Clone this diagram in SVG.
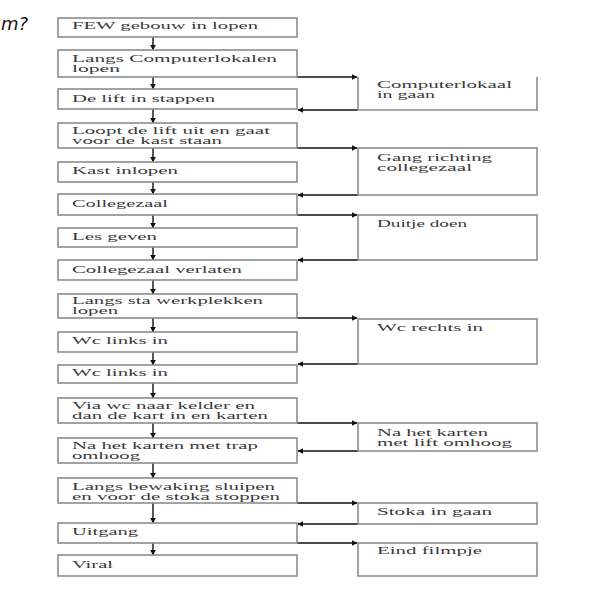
<svg xmlns="http://www.w3.org/2000/svg" width="600" height="600" viewBox="0 0 600 600">
<style>
.box{fill:#fff;stroke:#8c8c8c;stroke-width:1.6}
.side{fill:none;stroke:#8c8c8c;stroke-width:1.6}
.t{font-family:"Liberation Serif","Times New Roman",serif;font-size:9.5px;fill:#3a3a3a}
.c{fill:none;stroke:#111;stroke-width:1.4}
</style>
<defs>
<marker id="ah" viewBox="0 0 10 10" refX="9" refY="5" markerWidth="6" markerHeight="6" markerUnits="userSpaceOnUse" orient="auto">
<path d="M0,0 L10,5 L0,10 z" fill="#111"/>
</marker>
</defs>
<rect width="600" height="600" fill="#fff"/>
<text x="1" y="30" font-family="DejaVu Sans, sans-serif" font-size="18" font-style="italic" fill="#111">m?</text>

<g id="connectors">
<path class="c" marker-end="url(#ah)" d="M153,37V50"/>
<path class="c" marker-end="url(#ah)" d="M153,77V89"/>
<path class="c" marker-end="url(#ah)" d="M153,109V123"/>
<path class="c" marker-end="url(#ah)" d="M153,148V162"/>
<path class="c" marker-end="url(#ah)" d="M153,182V194"/>
<path class="c" marker-end="url(#ah)" d="M153,215V228"/>
<path class="c" marker-end="url(#ah)" d="M153,247V260"/>
<path class="c" marker-end="url(#ah)" d="M153,280V294"/>
<path class="c" marker-end="url(#ah)" d="M153,318V332"/>
<path class="c" marker-end="url(#ah)" d="M153,352V365"/>
<path class="c" marker-end="url(#ah)" d="M153,383V398"/>
<path class="c" marker-end="url(#ah)" d="M153,423V438"/>
<path class="c" marker-end="url(#ah)" d="M153,463V478"/>
<path class="c" marker-end="url(#ah)" d="M153,503V523"/>
<path class="c" marker-end="url(#ah)" d="M153,543V555"/>
<path class="c" marker-end="url(#ah)" d="M297,77H357"/>
<path class="c" marker-end="url(#ah)" d="M297,148H357"/>
<path class="c" marker-end="url(#ah)" d="M297,215H357"/>
<path class="c" marker-end="url(#ah)" d="M297,318H357"/>
<path class="c" marker-end="url(#ah)" d="M297,423H357"/>
<path class="c" marker-end="url(#ah)" d="M297,503H357"/>
<path class="c" marker-end="url(#ah)" d="M297,543H357"/>
<path class="c" marker-end="url(#ah)" d="M358,110H298"/>
<path class="c" marker-end="url(#ah)" d="M358,195H298"/>
<path class="c" marker-end="url(#ah)" d="M358,260H298"/>
<path class="c" marker-end="url(#ah)" d="M358,364H298"/>
<path class="c" marker-end="url(#ah)" d="M358,451H298"/>
<path class="c" marker-end="url(#ah)" d="M358,524H298"/>
</g>

<g id="n1"><rect class="box" x="58" y="18" width="239" height="19"/><text class="t" x="72" y="29" textLength="186" lengthAdjust="spacingAndGlyphs">FEW gebouw in lopen</text></g>
<g id="n2"><rect class="box" x="58" y="50" width="239" height="27"/><text class="t" x="72" y="62" textLength="205" lengthAdjust="spacingAndGlyphs">Langs Computerlokalen</text><text class="t" x="72" y="72" textLength="48" lengthAdjust="spacingAndGlyphs">lopen</text></g>
<g id="n3"><rect class="box" x="58" y="89" width="239" height="20"/><text class="t" x="72" y="102" textLength="143" lengthAdjust="spacingAndGlyphs">De lift in stappen</text></g>
<g id="n4"><rect class="box" x="58" y="123" width="239" height="25"/><text class="t" x="72" y="134" textLength="198" lengthAdjust="spacingAndGlyphs">Loopt de lift uit en gaat</text><text class="t" x="72" y="144" textLength="150" lengthAdjust="spacingAndGlyphs">voor de kast staan</text></g>
<g id="n5"><rect class="box" x="58" y="162" width="239" height="20"/><text class="t" x="72" y="174" textLength="106" lengthAdjust="spacingAndGlyphs">Kast inlopen</text></g>
<g id="n6"><rect class="box" x="58" y="194" width="239" height="21"/><text class="t" x="72" y="207" textLength="96" lengthAdjust="spacingAndGlyphs">Collegezaal</text></g>
<g id="n7"><rect class="box" x="58" y="228" width="239" height="19"/><text class="t" x="72" y="240" textLength="85" lengthAdjust="spacingAndGlyphs">Les geven</text></g>
<g id="n8"><rect class="box" x="58" y="260" width="239" height="20"/><text class="t" x="72" y="273" textLength="170" lengthAdjust="spacingAndGlyphs">Collegezaal verlaten</text></g>
<g id="n9"><rect class="box" x="58" y="294" width="239" height="24"/><text class="t" x="72" y="304" textLength="191" lengthAdjust="spacingAndGlyphs">Langs sta werkplekken</text><text class="t" x="72" y="314" textLength="46" lengthAdjust="spacingAndGlyphs">lopen</text></g>
<g id="n10"><rect class="box" x="58" y="332" width="239" height="20"/><text class="t" x="72" y="344" textLength="96" lengthAdjust="spacingAndGlyphs">Wc links in</text></g>
<g id="n11"><rect class="box" x="58" y="365" width="239" height="18"/><text class="t" x="72" y="376" textLength="96" lengthAdjust="spacingAndGlyphs">Wc links in</text></g>
<g id="n12"><rect class="box" x="58" y="398" width="239" height="25"/><text class="t" x="72" y="409" textLength="183" lengthAdjust="spacingAndGlyphs">Via wc naar kelder en</text><text class="t" x="72" y="419" textLength="196" lengthAdjust="spacingAndGlyphs">dan de kart in en karten</text></g>
<g id="n13"><rect class="box" x="58" y="438" width="239" height="25"/><text class="t" x="72" y="449" textLength="186" lengthAdjust="spacingAndGlyphs">Na het karten met trap</text><text class="t" x="72" y="459" textLength="68" lengthAdjust="spacingAndGlyphs">omhoog</text></g>
<g id="n14"><rect class="box" x="58" y="478" width="239" height="25"/><text class="t" x="72" y="490" textLength="203" lengthAdjust="spacingAndGlyphs">Langs bewaking sluipen</text><text class="t" x="72" y="500" textLength="208" lengthAdjust="spacingAndGlyphs">en voor de stoka stoppen</text></g>
<g id="n15"><rect class="box" x="58" y="523" width="239" height="20"/><text class="t" x="72" y="535" textLength="66" lengthAdjust="spacingAndGlyphs">Uitgang</text></g>
<g id="n16"><rect class="box" x="58" y="555" width="239" height="21"/><text class="t" x="72" y="568" textLength="41" lengthAdjust="spacingAndGlyphs">Viral</text></g>

<g id="s1"><path class="side" d="M358,77V110H537V77"/><text class="t" x="377" y="88" textLength="135" lengthAdjust="spacingAndGlyphs">Computerlokaal</text><text class="t" x="377" y="98" textLength="58" lengthAdjust="spacingAndGlyphs">in gaan</text></g>
<g id="s2"><rect class="side" x="358" y="148" width="179" height="47"/><text class="t" x="377" y="161" textLength="115" lengthAdjust="spacingAndGlyphs">Gang richting</text><text class="t" x="377" y="171" textLength="95" lengthAdjust="spacingAndGlyphs">collegezaal</text></g>
<g id="s3"><rect class="side" x="358" y="215" width="179" height="45"/><text class="t" x="377" y="227" textLength="90" lengthAdjust="spacingAndGlyphs">Duitje doen</text></g>
<g id="s4"><rect class="side" x="358" y="319" width="179" height="45"/><text class="t" x="377" y="331" textLength="106" lengthAdjust="spacingAndGlyphs">Wc rechts in</text></g>
<g id="s5"><rect class="side" x="358" y="423" width="179" height="28"/><text class="t" x="377" y="436" textLength="111" lengthAdjust="spacingAndGlyphs">Na het karten</text><text class="t" x="377" y="446" textLength="135" lengthAdjust="spacingAndGlyphs">met lift omhoog</text></g>
<g id="s6"><rect class="side" x="358" y="503" width="179" height="21"/><text class="t" x="377" y="515" textLength="115" lengthAdjust="spacingAndGlyphs">Stoka in gaan</text></g>
<g id="s7"><rect class="side" x="358" y="543" width="179" height="33"/><text class="t" x="377" y="554" textLength="105" lengthAdjust="spacingAndGlyphs">Eind filmpje</text></g>
</svg>
